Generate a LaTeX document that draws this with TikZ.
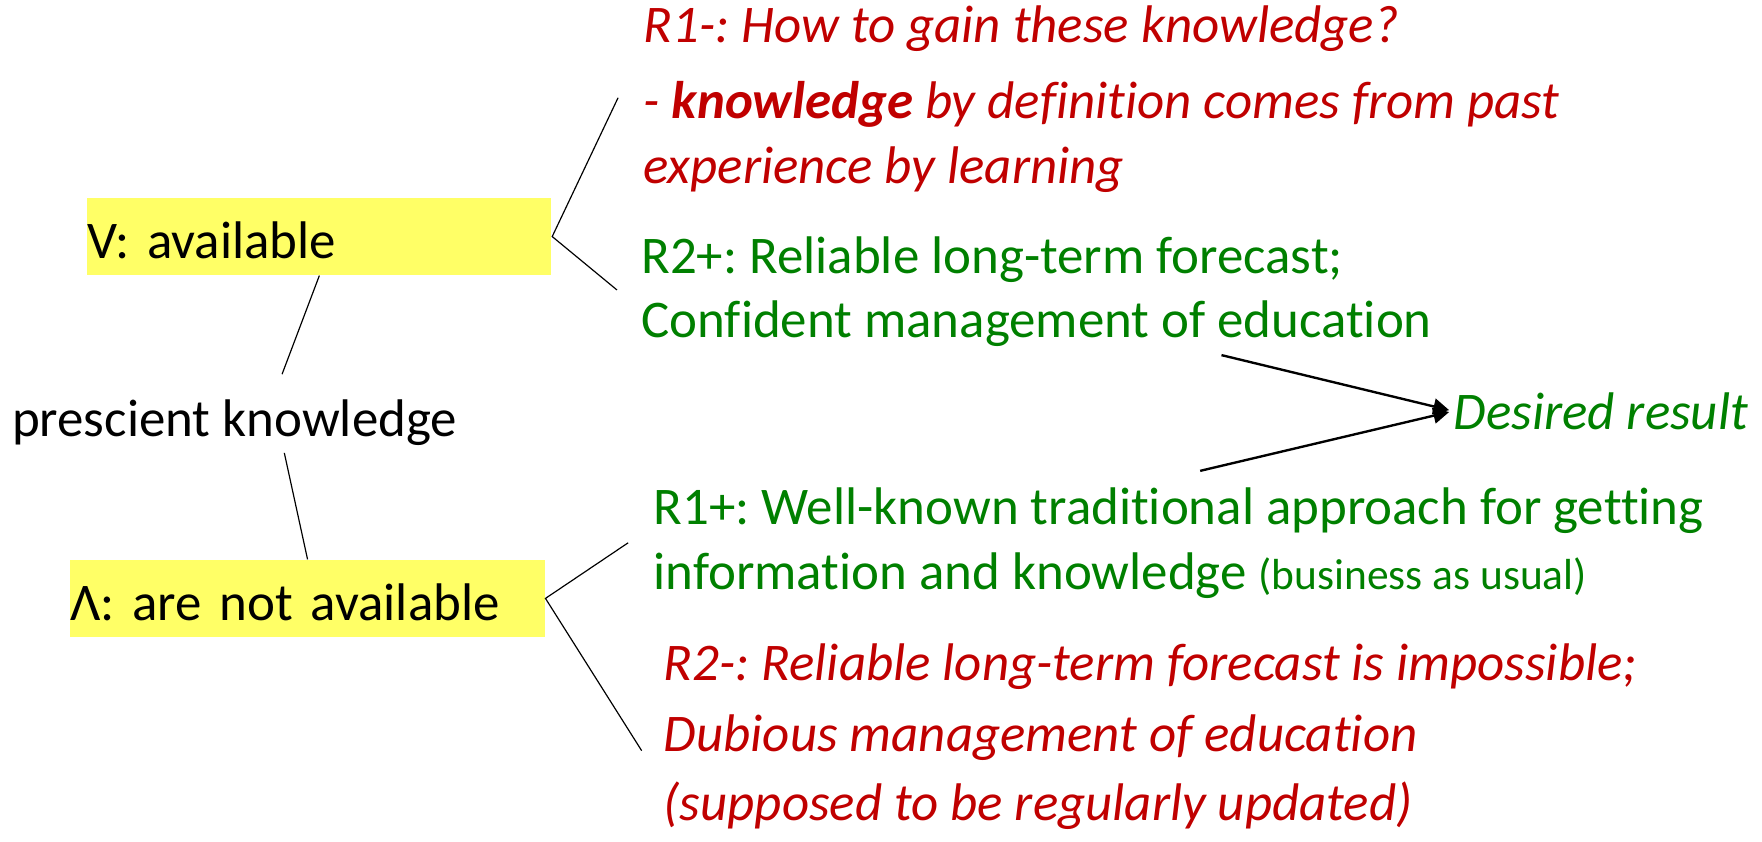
\documentclass[tikz,border=0pt]{standalone}
\usepackage{fontspec}
\setmainfont[Ligatures=NoCommon]{Carlito}
\usetikzlibrary{arrows.meta}
\definecolor{hlyellow}{RGB}{255,255,102}
\definecolor{goodgreen}{RGB}{0,128,0}
\definecolor{badred}{RGB}{192,0,0}
\frenchspacing

\begin{document}
\begin{tikzpicture}[
    every node/.style={inner sep=0pt, font=\fontsize{13.4}{16.5}\selectfont},
    hl/.style={fill=hlyellow, text height=11pt, text depth=0pt, minimum height=0.68cm, anchor=west},
    plus/.style={goodgreen, align=left, anchor=base west},
    minus/.style={badred, align=left, anchor=base west, font=\fontsize{13.4}{16.5}\selectfont\itshape},
    branch/.style={line width=0.3pt},
    res/.style={line width=0.6pt, shorten >=1pt, -{Triangle[length=4pt,width=4pt]}}]
    \useasboundingbox (0,0) rectangle (15.68,7.49);
    % root and the two cases
    \node[anchor=base west] (pk) at (0.10,3.61) {prescient knowledge};
    \node[hl, text width=4.13cm] (avail) at (0.77,5.385) {V: available};
    \node[hl, text width=4.22cm] (notavail) at (0.62,2.165) {Λ: are not available};
    % consequences (anchored at the last line)
    \node[minus] (r1minus) at (5.72,5.86) {R1-: How to gain these knowledge?\\[2.5pt]
        - \textbf{knowledge} by definition comes from past\\ experience by learning};
    \node[plus] (r2plus) at (5.70,4.49) {R2+: Reliable long-term forecast;\\[-0.5pt]
        Confident management of education};
    \node[plus] (r1plus) at (5.81,2.24) {R1+: Well-known traditional approach for getting\\
        information and knowledge {\fontsize{11}{13}\selectfont(business as usual)}};
    \node[minus] (r2minus) at (5.90,0.19) {R2-: Reliable long-term forecast is impossible;\\[1.5pt]
        Dubious management of education\\[1pt] (supposed to be regularly updated)};
    \node[goodgreen, anchor=base west, font=\fontsize{13.4}{16.5}\selectfont\itshape] (desired) at (12.93,3.67) {Desired result};
    % free ends of the branches
    \coordinate (pkup) at (2.51,4.16);
    \coordinate (pkdown) at (2.53,3.46);
    \coordinate (avup) at (5.50,6.62);
    \coordinate (avdown) at (5.49,4.91);
    \coordinate (naup) at (5.59,2.66);
    \coordinate (nadown) at (5.71,0.81);
    \coordinate (fromr2) at (10.87,4.33);
    \coordinate (fromr1) at (10.68,3.30);
    % tree
    \draw[branch] (avail.south) -- (pkup);
    \draw[branch] (pkdown) -- (notavail.north);
    \draw[branch] (avup) -- (avail.east) -- (avdown);
    \draw[branch] (naup) -- (notavail.east) -- (nadown);
    % both good outcomes lead to the goal
    \draw[res] (fromr2) -- (desired.west);
    \draw[res] (fromr1) -- (desired.west);
\end{tikzpicture}
\end{document}
